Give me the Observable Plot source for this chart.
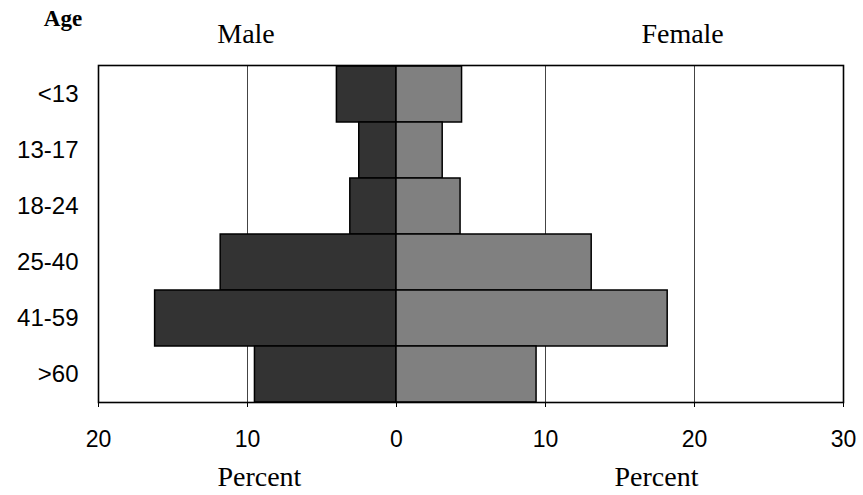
<!DOCTYPE html>
<html>
<head>
<meta charset="utf-8">
<script src="https://cdn.jsdelivr.net/npm/d3@7"></script>
<script src="https://cdn.jsdelivr.net/npm/@observablehq/plot@0.6"></script>
<style>
  html, body { margin: 0; padding: 0; background: #fff; }
</style>
</head>
<body>
<div id="chart"></div>
<script>
const ages = ["<13", "13-17", "18-24", "25-40", "41-59", ">60"];
const male = [4.0, 2.5, 3.1, 11.8, 16.2, 9.5];
const female = [4.4, 3.1, 4.3, 13.1, 18.2, 9.4];
const xTicks = [-20, -10, 0, 10, 20, 30];
const gridTicks = [-10, 10, 20];

const rows = ages.flatMap((a, i) => [
  {age: a, sex: "Male", value: -male[i]},
  {age: a, sex: "Female", value: female[i]}
]);

const serif = "'Liberation Serif', 'Times New Roman', serif";
const sans = "'Liberation Sans', Arial, sans-serif";

const chart = Plot.plot({
  width: 863,
  height: 495,
  marginLeft: 98,
  marginRight: 20,
  marginTop: 65,
  marginBottom: 93,
  style: {fontFamily: sans, fontSize: "22px", color: "#000", background: "#fff"},
  x: {domain: [-20, 30], label: null},
  y: {domain: ages, padding: 0, label: null},
  color: {domain: ["Male", "Female"], range: ["#333333", "#808080"]},
  marks: [
    Plot.ruleX(gridTicks, {stroke: "#444", strokeWidth: 1}),
    Plot.barX(rows, {y: "age", x1: 0, x2: "value", fill: "sex", stroke: "#000", strokeWidth: 1.5}),
    Plot.frame({stroke: "#000", strokeWidth: 1.6}),
    Plot.axisX({ticks: xTicks, tickFormat: d => Math.abs(d), tickSize: 5, tickPadding: 23, fontSize: 23, label: null, stroke: "#000"}),
    Plot.axisY({tickSize: 0, tickPadding: 20, fontSize: 24, label: null}),
    Plot.text(["Male"], {x: -10.1, frameAnchor: "top", lineAnchor: "bottom", dy: -23, fontFamily: serif, fontSize: 28, fill: "#000"}),
    Plot.text(["Female"], {x: 19.2, frameAnchor: "top", lineAnchor: "bottom", dy: -23, fontFamily: serif, fontSize: 28, fill: "#000"}),
    Plot.text(["Percent"], {x: -9.2, frameAnchor: "bottom", lineAnchor: "bottom", dy: 83, fontFamily: serif, fontSize: 28, fill: "#000"}),
    Plot.text(["Percent"], {x: 17.45, frameAnchor: "bottom", lineAnchor: "bottom", dy: 83, fontFamily: serif, fontSize: 28, fill: "#000"}),
    Plot.text(["Age"], {frameAnchor: "top-left", textAnchor: "middle", lineAnchor: "bottom", dx: -35.5, dy: -40, fontFamily: serif, fontWeight: "bold", fontSize: 23, fill: "#000"})
  ]
});
document.getElementById("chart").appendChild(chart);
</script>
</body>
</html>
